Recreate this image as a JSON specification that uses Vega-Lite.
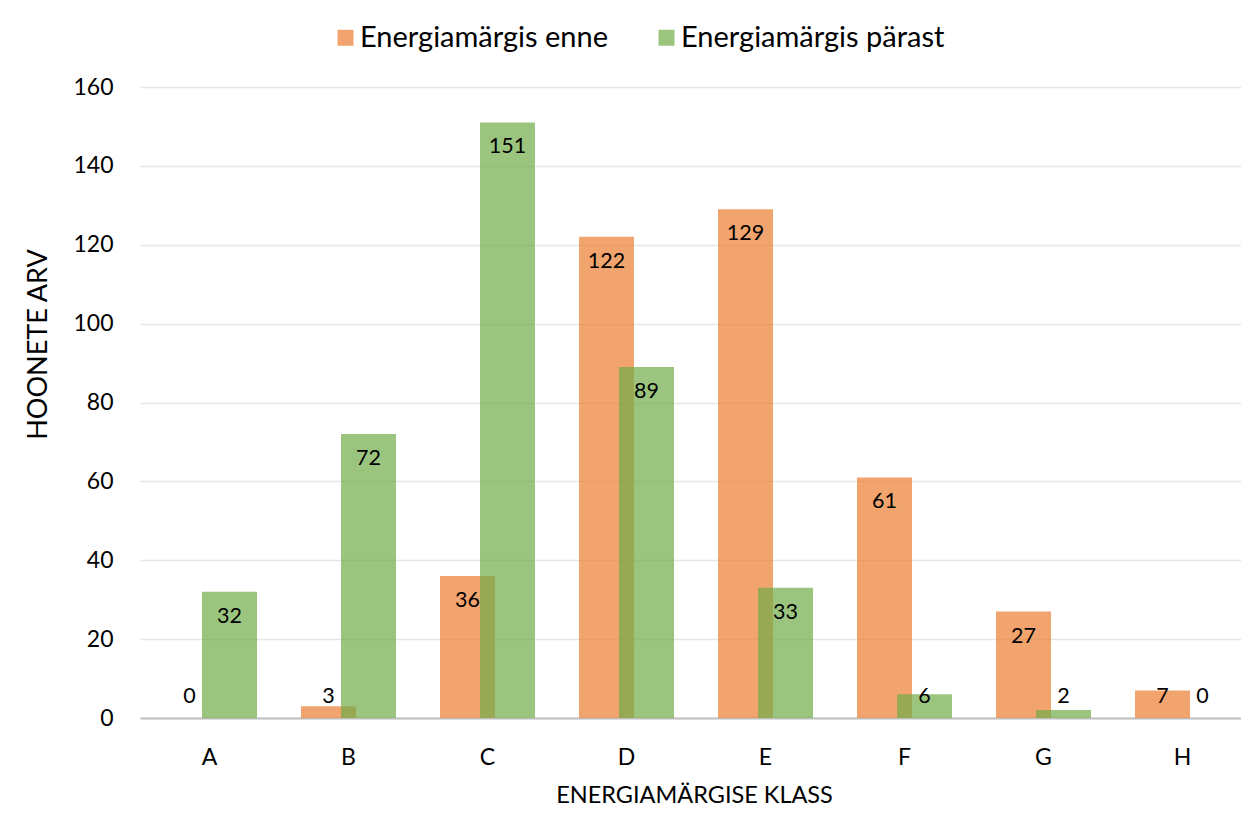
{
  "$schema": "https://vega.github.io/schema/vega-lite/v6.json",
  "width": 1101,
  "height": 631,
  "autosize": {"type": "none"},
  "padding": {"left": 140, "top": 87, "right": 0, "bottom": 108},
  "background": "white",
  "config": {"font": "Lato", "view": {"stroke": null}},
  "data": {
    "values": [
      {"klass": "A", "series": "Energiamärgis enne", "value": 0},
      {"klass": "B", "series": "Energiamärgis enne", "value": 3},
      {"klass": "C", "series": "Energiamärgis enne", "value": 36},
      {"klass": "D", "series": "Energiamärgis enne", "value": 122},
      {"klass": "E", "series": "Energiamärgis enne", "value": 129},
      {"klass": "F", "series": "Energiamärgis enne", "value": 61},
      {"klass": "G", "series": "Energiamärgis enne", "value": 27},
      {"klass": "H", "series": "Energiamärgis enne", "value": 7},
      {"klass": "A", "series": "Energiamärgis pärast", "value": 32},
      {"klass": "B", "series": "Energiamärgis pärast", "value": 72},
      {"klass": "C", "series": "Energiamärgis pärast", "value": 151},
      {"klass": "D", "series": "Energiamärgis pärast", "value": 89},
      {"klass": "E", "series": "Energiamärgis pärast", "value": 33},
      {"klass": "F", "series": "Energiamärgis pärast", "value": 6},
      {"klass": "G", "series": "Energiamärgis pärast", "value": 2},
      {"klass": "H", "series": "Energiamärgis pärast", "value": 0}
    ]
  },
  "encoding": {
    "x": {
      "field": "klass",
      "type": "nominal",
      "scale": {"range": [0, 1112], "paddingInner": 0, "paddingOuter": 0},
      "axis": {
        "title": "ENERGIAMÄRGISE KLASS",
        "labelAngle": 0,
        "ticks": false,
        "tickSize": 0,
        "domainColor": "#bfbfbf",
        "domainWidth": 2,
        "labelPadding": 39,
        "labelBaseline": "middle",
        "labelFontSize": 23,
        "labelColor": "#000000",
        "titleFontSize": 23.5,
        "titleFontWeight": "normal",
        "titleColor": "#000000",
        "titleX": 554,
        "titleY": 77,
        "titleAlign": "center",
        "titleBaseline": "middle"
      }
    }
  },
  "layer": [
    {
      "transform": [{"filter": "datum.series == 'Energiamärgis enne'"}],
      "mark": {"type": "bar", "width": 55, "xOffset": -20, "opacity": 0.7},
      "encoding": {
        "y": {
          "field": "value",
          "type": "quantitative",
          "scale": {"domain": [0, 160], "nice": false},
          "axis": {
            "title": "HOONETE ARV",
            "values": [0, 20, 40, 60, 80, 100, 120, 140, 160],
            "domain": false,
            "ticks": false,
            "labelPadding": 27,
            "labelFontSize": 23,
            "labelColor": "#000000",
            "gridColor": "#e6e6e6",
            "gridWidth": 1.5,
            "titleFontSize": 27,
            "titleFontWeight": "normal",
            "titleColor": "#000000",
            "titleAngle": -90,
            "titleX": -102,
            "titleY": 257,
            "titleAlign": "center",
            "titleBaseline": "middle"
          }
        },
        "color": {
          "field": "series",
          "type": "nominal",
          "scale": {"domain": ["Energiamärgis enne", "Energiamärgis pärast"], "range": ["#ED7D31", "#70AD47"]},
          "legend": {
            "title": null,
            "orient": "none",
            "direction": "horizontal",
            "legendX": 191,
            "legendY": -64,
            "symbolType": "square",
            "symbolSize": 256,
            "symbolOpacity": 0.7,
            "symbolStrokeWidth": 0,
            "labelFontSize": 29,
            "labelLimit": 0,
            "labelColor": "#000000",
            "labelOffset": 0,
            "columnPadding": 43
          }
        }
      }
    },
    {
      "transform": [{"filter": "datum.series == 'Energiamärgis pärast'"}],
      "mark": {"type": "bar", "width": 55, "xOffset": 20, "opacity": 0.7},
      "encoding": {
        "y": {"field": "value", "type": "quantitative"},
        "color": {"field": "series", "type": "nominal"}
      }
    },
    {
      "transform": [{"filter": "datum.series == 'Energiamärgis enne' && datum.value >= 12"}],
      "mark": {"type": "text", "xOffset": -20, "dy": 25, "fontSize": 21.5, "color": "#000000", "baseline": "middle"},
      "encoding": {
        "y": {"field": "value", "type": "quantitative"},
        "text": {"field": "value", "type": "quantitative"}
      }
    },
    {
      "transform": [{"filter": "datum.series == 'Energiamärgis enne' && datum.value < 12"}],
      "mark": {"type": "text", "xOffset": -20, "dy": -21, "fontSize": 21.5, "color": "#000000", "baseline": "middle"},
      "encoding": {
        "y": {"datum": 0, "type": "quantitative"},
        "text": {"field": "value", "type": "quantitative"}
      }
    },
    {
      "transform": [{"filter": "datum.series == 'Energiamärgis pärast' && datum.value >= 12"}],
      "mark": {"type": "text", "xOffset": 20, "dy": 25, "fontSize": 21.5, "color": "#000000", "baseline": "middle"},
      "encoding": {
        "y": {"field": "value", "type": "quantitative"},
        "text": {"field": "value", "type": "quantitative"}
      }
    },
    {
      "transform": [{"filter": "datum.series == 'Energiamärgis pärast' && datum.value < 12"}],
      "mark": {"type": "text", "xOffset": 20, "dy": -21, "fontSize": 21.5, "color": "#000000", "baseline": "middle"},
      "encoding": {
        "y": {"datum": 0, "type": "quantitative"},
        "text": {"field": "value", "type": "quantitative"}
      }
    }
  ]
}
